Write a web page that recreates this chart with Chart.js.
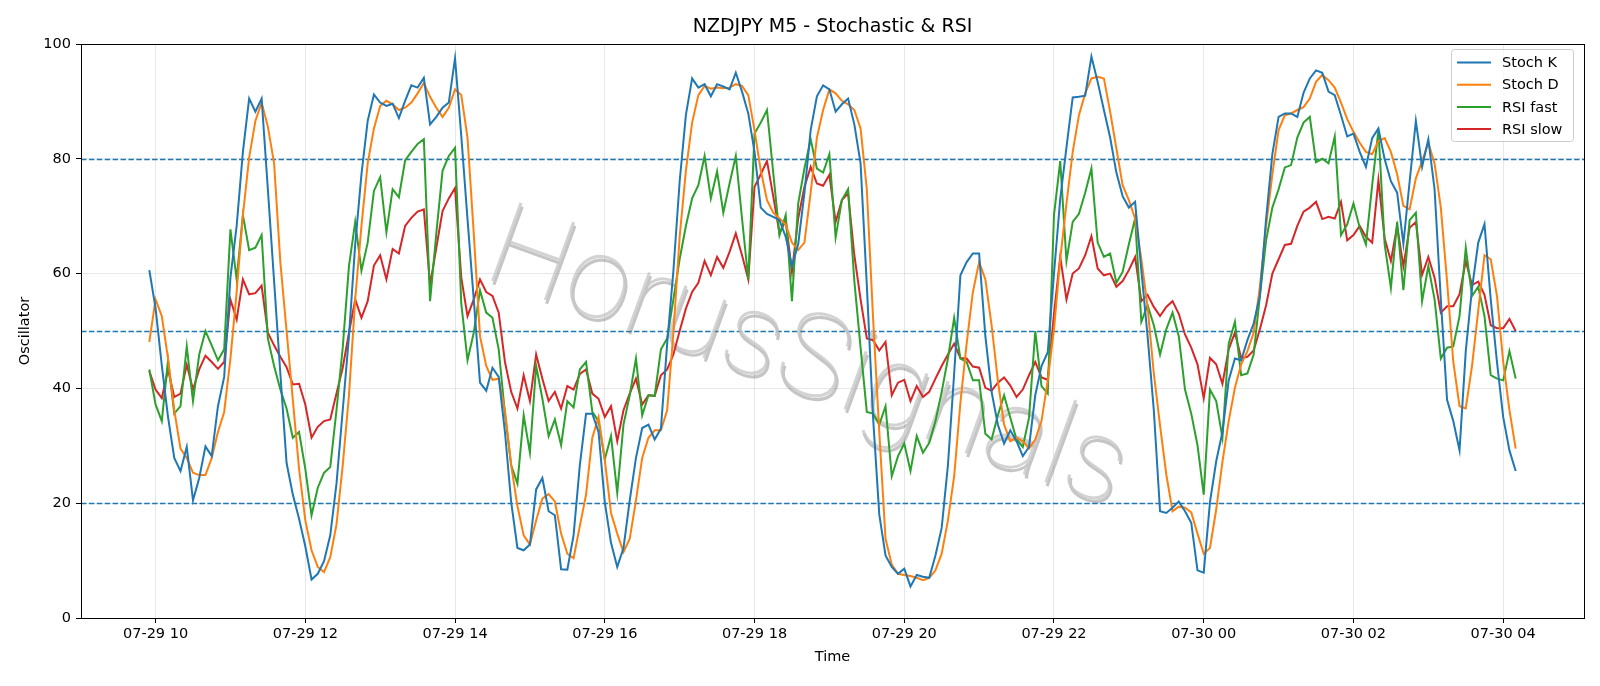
<!DOCTYPE html>
<html>
<head>
<meta charset="utf-8">
<script src="https://cdn.jsdelivr.net/npm/chart.js@4.4.1/dist/chart.umd.min.js"></script>
<style>
  html, body { margin: 0; padding: 0; background: #fff; }
  canvas { display: block; }
</style>
</head>
<body>
<canvas id="osc-chart" width="1600" height="686"></canvas>
<script>
// M5 bars, index 0 = 07-29 09:55, one step = 5 minutes
const stochK = [
  60.6, 54, 44, 35, 27.9, 25.6, 29.8, 20.5, 24.4, 29.9, 28.2, 36.9, 42.0, 59.3, 68.3, 81.2, 90.5, 88.2, 90.5, 74.7,
  58.7, 42.6, 27, 21.5, 17.3, 12.5, 6.7, 7.7, 9.9, 14.4, 23.4, 36.2, 49.1, 65.1, 77.3, 86.6, 91.2, 89.8, 89.2, 89.6,
  87.1, 90.1, 92.8, 92.4, 94.1, 86.0, 87.3, 88.9, 89.8, 97.5, 84, 69.5, 55.5, 41.0, 39.6, 43.6, 42.0, 32.4, 20.2, 12.2,
  11.8, 12.8, 22.4, 24.4, 18.6, 17.9, 8.5, 8.4, 14.4, 26.6, 35.6, 35.6, 32.4, 20.2, 13.1, 8.9, 12.2, 20.5, 27.9, 33.1,
  33.7, 31.1, 33.0, 47.8, 60.5, 76.0, 87.6, 94.0, 92.4, 93.0, 90.9, 93.0, 92.6, 92.1, 95.0, 91.7, 87.9, 81.2, 71.5, 70.4,
  69.9, 69.3, 66.4, 61.3, 65.1, 74, 85, 90.9, 92.8, 92.1, 88.2, 89.5, 90.5, 86.0, 79.2, 58, 35, 18, 10.9, 8.9,
  7.7, 8.6, 5.5, 7.5, 7.2, 7.0, 10.9, 15.7, 26.6, 42.6, 59.7, 62, 63.5, 63.5, 49.1, 39.4, 33.7, 30.4, 32.7, 30.8,
  28.2, 29.8, 38.8, 43.9, 46.3, 60, 73, 82, 90.7, 90.8, 91.0, 97.8, 93.4, 88.5, 83.7, 77.6, 73.5, 71.5, 72.5, 60.6,
  49.1, 36.2, 18.6, 18.3, 19.2, 20.3, 18.6, 16.6, 8.3, 7.9, 20.2, 27.3, 32.4, 41.4, 45.2, 44.9, 48.4, 51.3, 56.1, 69.6,
  80.8, 87.3, 87.9, 87.9, 87.3, 91.5, 94.0, 95.4, 95.0, 91.7, 91.1, 87.6, 83.9, 84.4, 81.2, 78.6, 83.6, 85.3, 79.9, 76.1,
  74.1, 65.2, 76, 86.6, 78.6, 83.4, 74.7, 55.5, 38, 34.3, 29.2, 46.5, 57.4, 65.4, 68.6, 55.5, 44.6, 35.0, 29.2, 25.6
];
const stochD = [
  48.1, 55.5, 52.6, 45.2, 36.2, 29.5, 27.9, 25.3, 24.9, 24.9, 27.9, 32.4, 35.9, 45.2, 56.8, 70.2, 80.2, 86.6, 89.8, 85.6,
  79.2, 62, 50, 38, 26, 17, 11.8, 8.9, 8.0, 10.6, 16.3, 26.6, 38.8, 55.5, 68.3, 79.2, 85.3, 89.2, 90.1, 89.5,
  88.5, 88.9, 89.8, 91.4, 93.2, 90.8, 88.9, 87.3, 88.9, 92.1, 91.1, 83.7, 67.0, 49.1, 43.9, 41.5, 41.7, 36.2, 26.6, 19.5,
  14.4, 12.8, 17.0, 20.8, 21.6, 20.3, 14.7, 11.2, 10.4, 16, 21.5, 31.4, 35.0, 27.6, 18.3, 14.7, 11.5, 13.8, 20.5, 27.9,
  31.4, 32.7, 32.7, 36.2, 49.7, 66.4, 77.9, 86.3, 91.1, 92.7, 92.2, 92.4, 92.3, 92.4, 93.0, 92.7, 91.1, 85.0, 78.0, 72.8,
  70.6, 69.6, 68.6, 65.4, 64.1, 65.4, 74.1, 83.7, 88.5, 92.1, 91.4, 90.1, 89.5, 88.5, 85.3, 74.7, 52.3, 32.4, 13.8, 9.3,
  7.7, 7.5, 7.3, 7.0, 6.6, 7.0, 8.3, 11.2, 17.0, 24.7, 37.5, 47.8, 56.8, 62.0, 59.0, 51.0, 41.4, 33.7, 30.8, 31.4,
  30.8, 29.5, 31.1, 34.3, 41.4, 50.3, 62.5, 72.2, 81.2, 87.6, 91.4, 94.0, 94.3, 94.0, 88.2, 81.8, 75.4, 72.8, 69.6, 62.5,
  54.2, 42.6, 33.5, 25, 18.6, 19.4, 19.2, 18.4, 14.7, 11.2, 12.2, 18.9, 27.2, 34.3, 40.1, 44.2, 46.5, 49.7, 57.7, 68.3,
  77.3, 85.0, 87.6, 87.9, 88.5, 89, 90.5, 93.4, 94.6, 93.7, 92.4, 89.8, 86.9, 84.7, 82.8, 81.2, 80.8, 83.1, 83.6, 81.2,
  77.3, 71.8, 71.2, 76.6, 79.6, 82.8, 79.2, 71.5, 58.7, 44.6, 36.9, 36.5, 43.9, 53.6, 63.2, 62.5, 56.1, 44.6, 36.2, 29.5
];
const rsiFast = [
  43.3, 37.2, 34.3, 44.9, 35.6, 36.9, 47.3, 37.8, 45.9, 50.0, 47.5, 44.9, 46.8, 67.7, 59.0, 70.2, 64.1, 64.5, 66.7, 48.7,
  43.9, 39.8, 36.5, 31.4, 32.4, 26.0, 17.9, 22.7, 25.3, 26.3, 36.2, 47.1, 61.3, 69.0, 60.5, 65.4, 74.4, 76.8, 67.2, 74.7,
  73.3, 79.7, 81.2, 82.6, 83.4, 55.2, 67.0, 77.9, 80.5, 81.9, 54.8, 44.9, 49.7, 57.1, 53.2, 52.3, 46.8, 35.6, 26.6, 23.4,
  35.3, 28.8, 43.9, 38.2, 31.7, 34.6, 30.1, 37.8, 36.7, 43.3, 44.6, 35.9, 34.3, 27.6, 31.7, 21.8, 33.7, 38.8, 45.2, 35.3,
  38.8, 38.7, 46.8, 48.7, 55.5, 62.5, 68.3, 73.1, 75.4, 80.5, 73.1, 77.8, 70.6, 75.7, 80.5, 69.6, 59.0, 84.4, 86.3, 88.5,
  77.6, 66.7, 70.2, 55.2, 72.2, 78.3, 83.4, 78.3, 77.6, 80.8, 66.3, 72.8, 74.7, 58.7, 47.1, 35.9, 35.6, 33.7, 36.9, 24.7,
  28.2, 30.4, 25.6, 31.7, 28.8, 30.5, 34.3, 39.4, 45.2, 52.3, 45.2, 44.6, 41.4, 41.4, 32.1, 31.1, 35.3, 38.8, 34.9, 31.1,
  29.8, 34.9, 50.0, 40.4, 39.1, 70.2, 79.6, 62.2, 69.0, 70.4, 74.1, 78.3, 65.4, 62.9, 63.5, 58.4, 60.3, 65.1, 69.6, 51.6,
  54.5, 51.0, 45.9, 50.3, 53.2, 49.1, 39.8, 35.6, 30.1, 21.5, 39.8, 37.8, 31.4, 47.8, 51.6, 42.3, 42.6, 45.9, 56.1, 65.8,
  71.5, 74.7, 78.5, 78.9, 83.7, 86.3, 87.3, 79.4, 80.0, 79.2, 83.9, 66.7, 68.6, 72.2, 68.0, 65.1, 75.4, 85.0, 65.1, 57.5,
  69.0, 57.1, 69.3, 70.6, 55.2, 61.3, 55.5, 45.2, 47.1, 47.3, 52.6, 64.5, 56.1, 57.7, 52.6, 42.3, 41.7, 41.4, 46.5, 41.7
];
const rsiSlow = [
  43.0, 39.8, 38.3, 43.3, 38.5, 39.1, 44.1, 39.8, 43.3, 45.7, 44.6, 43.4, 44.6, 55.5, 52.0, 59.0, 56.4, 56.6, 57.9, 49.7,
  47.5, 45.5, 43.7, 40.7, 40.8, 37.2, 31.4, 33.3, 34.3, 34.6, 39.1, 43.6, 49.7, 55.5, 52.3, 55.2, 61.4, 63.2, 59.0, 64.3,
  63.5, 68.3, 69.7, 70.8, 71.2, 58.0, 64.5, 70.9, 73.1, 74.9, 59.3, 52.6, 55.5, 59.0, 56.8, 56.1, 53.2, 44.6, 39.4, 36.5,
  42.3, 37.8, 45.9, 41.7, 37.8, 39.4, 36.5, 40.4, 39.8, 42.5, 43.3, 39.1, 38.2, 35.0, 36.9, 30.8, 36.2, 39.1, 41.7, 37.2,
  38.8, 38.7, 42.3, 43.3, 45.9, 50.0, 53.9, 56.8, 58.4, 62.2, 59.7, 62.9, 61.0, 63.8, 67.0, 63.2, 59.0, 75.1, 77.3, 79.6,
  73.5, 67.0, 69.3, 60.3, 69.6, 75.1, 78.6, 75.7, 75.3, 77.2, 69.0, 72.8, 74.0, 63.2, 55.5, 48.7, 48.4, 46.6, 48.1, 38.8,
  41.0, 41.5, 37.8, 40.4, 38.5, 39.4, 41.7, 43.9, 45.9, 47.8, 45.3, 45.2, 43.8, 43.6, 40.1, 39.6, 41.0, 41.9, 40.5, 38.5,
  39.8, 42.3, 44.6, 41.9, 41.5, 53, 62.9, 55.5, 60.0, 60.9, 63.2, 66.5, 60.9, 59.7, 60.0, 57.7, 58.7, 60.6, 62.9, 55.2,
  56.3, 54.2, 52.6, 54.2, 55.2, 53.0, 49.4, 47.1, 44.2, 38.3, 45.3, 44.2, 40.8, 46.8, 49.7, 45.3, 45.5, 46.6, 50.3, 54.5,
  60.0, 62.5, 65.0, 65.2, 68.3, 70.8, 71.5, 72.5, 69.5, 69.9, 69.6, 72.5, 65.8, 66.7, 68.3, 66.4, 65.4, 76.3, 66.1, 62.2,
  68.3, 61.3, 68.0, 69.0, 59.8, 62.9, 59.3, 53.2, 54.3, 54.3, 56.4, 62.2, 58.0, 58.6, 56.3, 51.0, 50.5, 50.5, 52.1, 50.0
];

// x ticks every 2 hours (bar index of each tick)
const xTickIndex = [1, 25, 49, 73, 97, 121, 145, 169, 193, 217];
const xTickLabels = ["07-29 10", "07-29 12", "07-29 14", "07-29 16", "07-29 18",
                     "07-29 20", "07-29 22", "07-30 00", "07-30 02", "07-30 04"];
const levels = [20, 50, 80];

const seriesNames = ["Stoch K", "Stoch D", "RSI fast", "RSI slow"];
const seriesColors = ["#1f77b4", "#ff7f0e", "#2ca02c", "#d62728"];
const seriesData = [stochK, stochD, rsiFast, rsiSlow];

const FONT = "'DejaVu Sans', sans-serif";
const FS = 14.5; // tick / label / legend size
const WM_FONT = "Roboto, Lato, 'Open Sans', sans-serif";

// title, axis labels, dashed levels, watermark, legend, frame
const decorPlugin = {
  id: "decor",
  beforeDatasetsDraw(chart) {
    const ctx = chart.ctx;
    const area = chart.chartArea;
    const y = chart.scales.y;
    ctx.save();
    ctx.strokeStyle = "#1f77b4";
    ctx.lineWidth = 1.3;
    ctx.setLineDash([5.5, 2.4]);
    levels.forEach((lv) => {
      const py = Math.round(y.getPixelForValue(lv)) + 0.5;
      ctx.beginPath();
      ctx.moveTo(area.left, py);
      ctx.lineTo(area.right, py);
      ctx.stroke();
    });
    ctx.restore();

    // watermark, thin grey text with a soft shadow
    ctx.save();
    ctx.translate(806, 364);
    ctx.rotate(20 * Math.PI / 180);
    ctx.font = "100 100px " + WM_FONT;
    const w = ctx.measureText("HorusSignals").width;
    const size = 100 * 672 / w;
    ctx.font = "100 " + size.toFixed(1) + "px " + WM_FONT;
    ctx.textAlign = "center";
    ctx.textBaseline = "middle";
    ctx.fillStyle = "rgba(110,110,110,0.4)";
    ctx.fillText("HorusSignals", 2.5, 3);
    ctx.fillStyle = "rgba(200,200,200,0.8)";
    ctx.fillText("HorusSignals", 0, 0);
    ctx.restore();
  },
  afterDraw(chart) {
    const ctx = chart.ctx;
    const area = chart.chartArea;
    ctx.save();
    // frame
    ctx.strokeStyle = "#000";
    ctx.lineWidth = 1;
    ctx.setLineDash([]);
    ctx.strokeRect(Math.round(area.left) + 0.5, Math.round(area.top) + 0.5,
      Math.round(area.right - area.left), Math.round(area.bottom - area.top));

    // title and axis titles
    ctx.fillStyle = "#000";
    ctx.textAlign = "center";
    ctx.textBaseline = "middle";
    ctx.font = "19px " + FONT;
    ctx.fillText("NZDJPY M5 - Stochastic & RSI", (area.left + area.right) / 2, 27);
    ctx.font = FS + "px " + FONT;
    ctx.fillText("Time", (area.left + area.right) / 2, 657);
    ctx.save();
    ctx.translate(25, (area.top + area.bottom) / 2);
    ctx.rotate(-Math.PI / 2);
    ctx.fillText("Oscillator", 0, 0);
    ctx.restore();

    // legend box, upper right
    const bx = 1451, by = 49, bw = 122, bh = 92;
    ctx.beginPath();
    ctx.roundRect(bx + 0.5, by + 0.5, bw, bh, 3);
    ctx.fillStyle = "rgba(255,255,255,0.8)";
    ctx.fill();
    ctx.strokeStyle = "#cccccc";
    ctx.stroke();
    ctx.font = FS + "px " + FONT;
    ctx.textAlign = "left";
    seriesNames.forEach((name, k) => {
      const ly = 62.5 + k * 22.2;
      ctx.strokeStyle = seriesColors[k];
      ctx.lineWidth = 2;
      ctx.beginPath();
      ctx.moveTo(bx + 6, ly);
      ctx.lineTo(bx + 40, ly);
      ctx.stroke();
      ctx.fillStyle = "#000";
      ctx.fillText(name, bx + 51, ly + 1);
    });
    ctx.restore();
  }
};

new Chart(document.getElementById("osc-chart"), {
  type: "line",
  data: {
    datasets: seriesData.map((values, k) => ({
      label: seriesNames[k],
      data: values.map((v, i) => ({ x: i, y: v })),
      borderColor: seriesColors[k],
      backgroundColor: seriesColors[k],
      borderWidth: 2,
      pointRadius: 0,
      tension: 0,
      fill: false,
    })),
  },
  options: {
    responsive: false,
    animation: false,
    events: [],
    layout: { padding: { left: 0, right: 16, top: 44, bottom: 0 } },
    plugins: {
      legend: { display: false },
      title: { display: false },
      tooltip: { enabled: false },
    },
    scales: {
      x: {
        type: "linear",
        min: -10.95,
        max: 229.95,
        afterBuildTicks: (scale) => {
          scale.ticks = xTickIndex.map((v) => ({ value: v }));
        },
        afterFit: (scale) => {
          scale.height = 68;
        },
        ticks: {
          autoSkip: false,
          maxRotation: 0,
          padding: 3,
          color: "#000",
          font: { family: FONT, size: FS },
          callback: (value) => xTickLabels[xTickIndex.indexOf(value)],
        },
        grid: {
          color: "rgba(176,176,176,0.3)",
          tickColor: "#000",
          tickLength: 5,
        },
        border: { color: "#000" },
      },
      y: {
        min: 0,
        max: 100,
        afterFit: (scale) => {
          scale.width = 81;
        },
        ticks: {
          stepSize: 20,
          padding: 5,
          color: "#000",
          font: { family: FONT, size: FS },
        },
        grid: {
          color: "rgba(176,176,176,0.3)",
          tickColor: "#000",
          tickLength: 5,
        },
        border: { color: "#000" },
      },
    },
  },
  plugins: [decorPlugin],
});
</script>
</body>
</html>
